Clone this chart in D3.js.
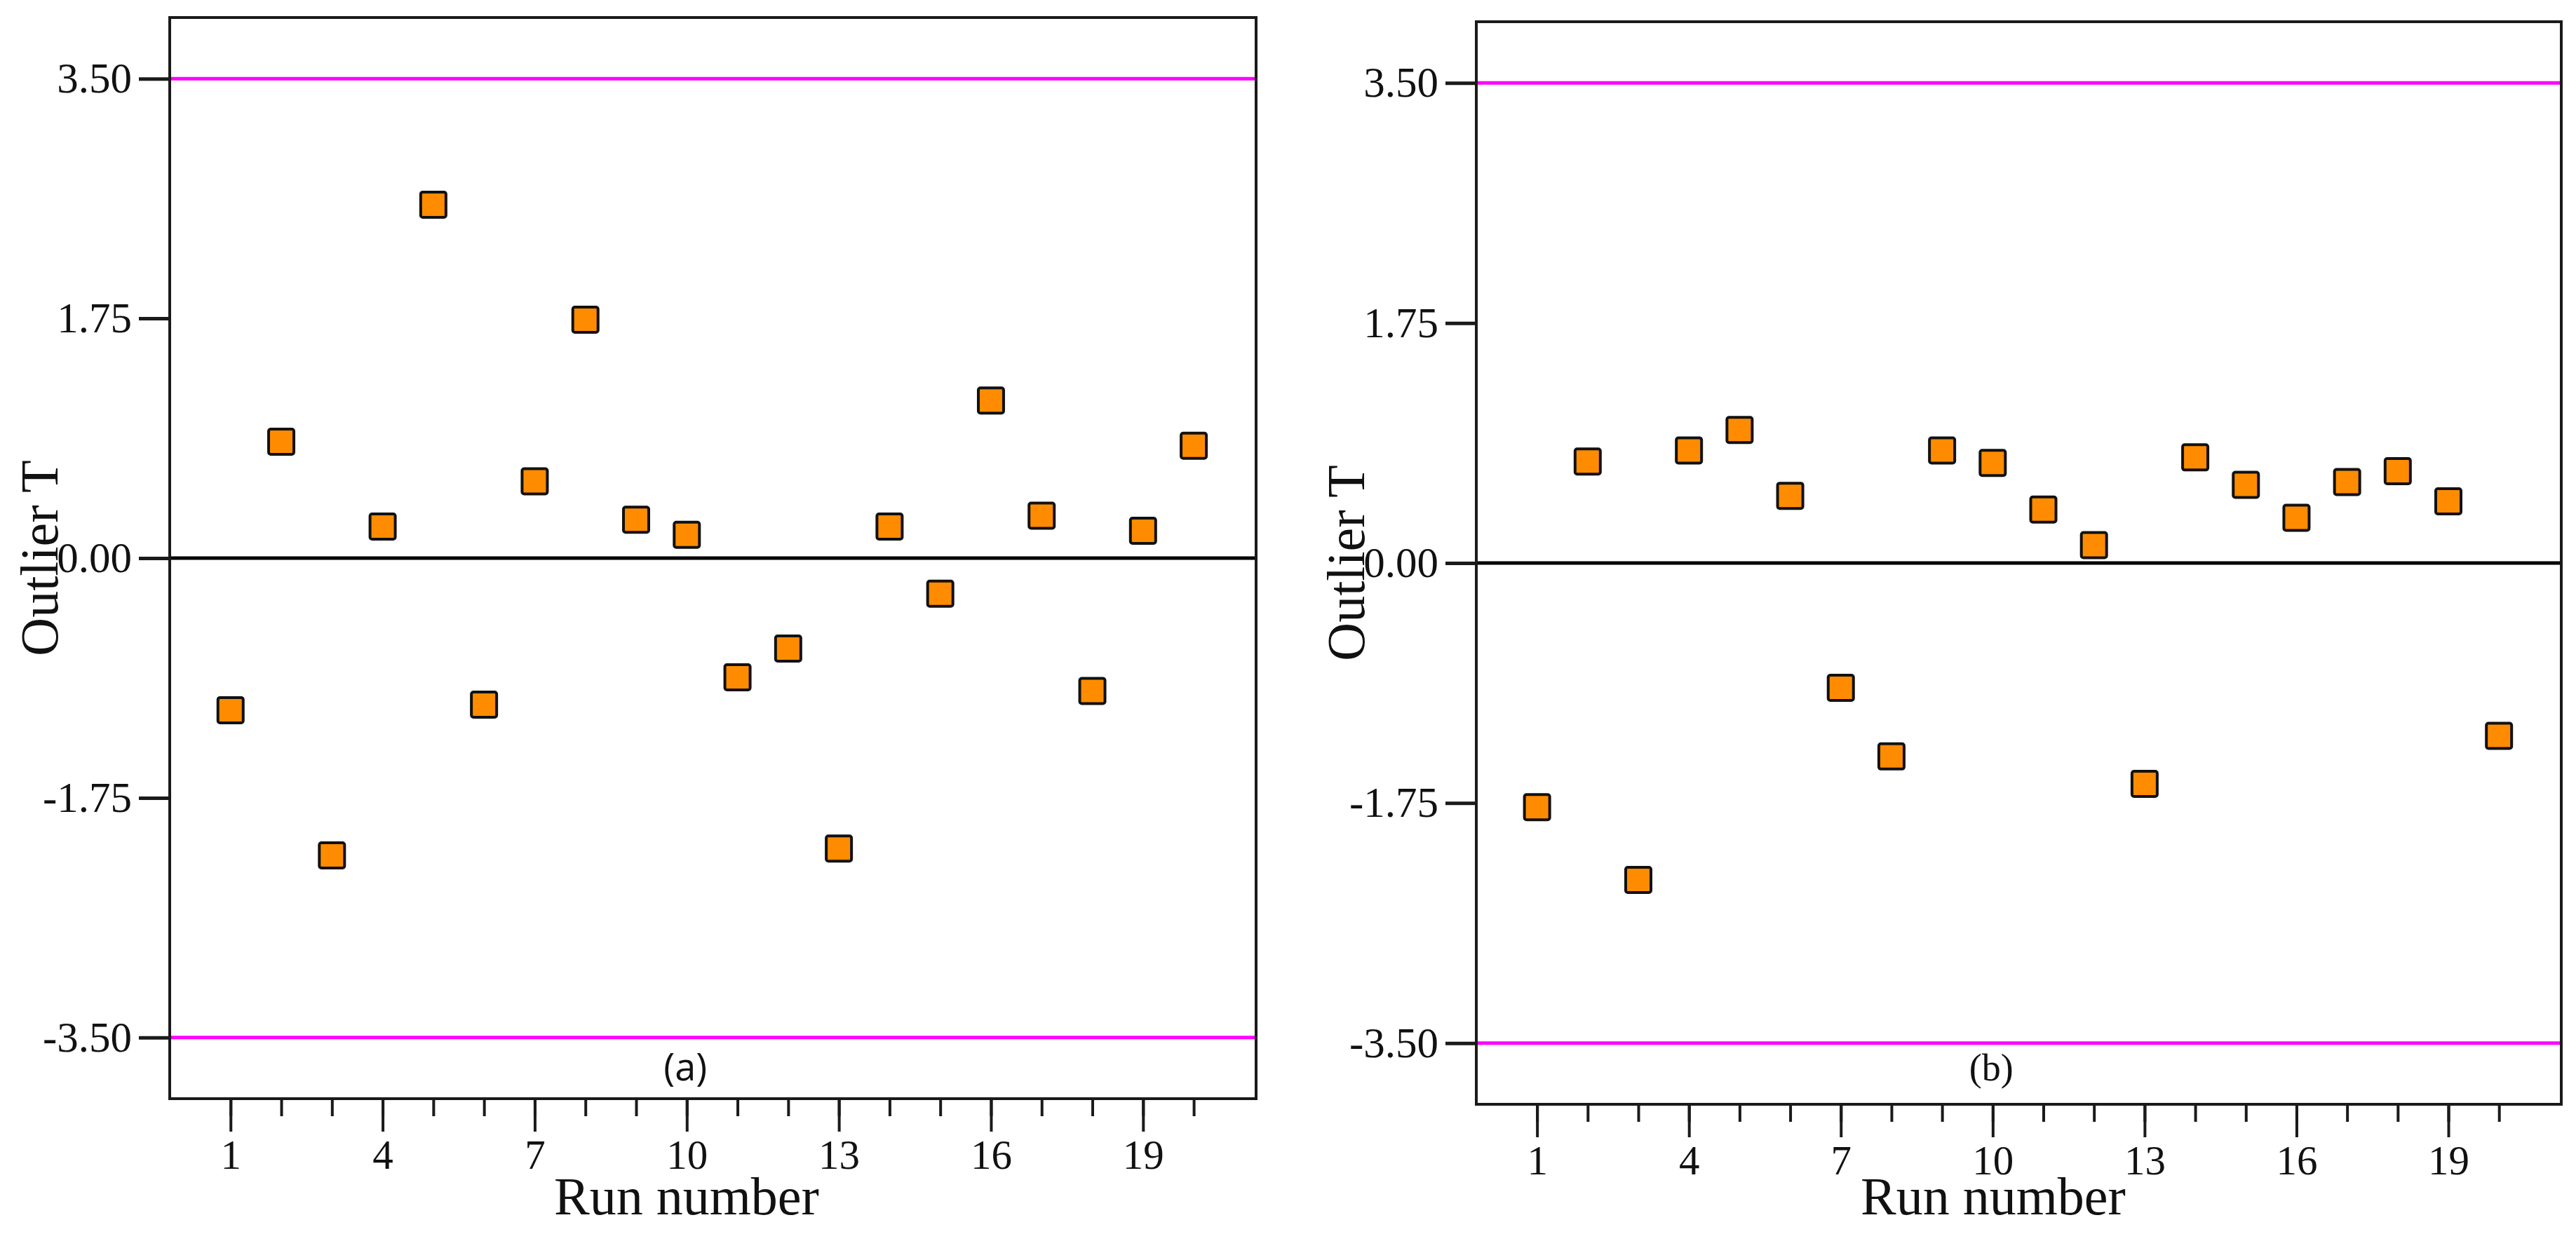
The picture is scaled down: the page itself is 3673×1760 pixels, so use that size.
<!DOCTYPE html>
<html>
<head>
<meta charset="utf-8">
<script src="https://cdn.jsdelivr.net/npm/d3@7"></script>
<style>
  html, body { margin: 0; padding: 0; background: #fff; }
  svg { display: block; }
  .tick text { font-family: "Liberation Serif", "Times New Roman", serif; fill: #111; }
</style>
</head>
<body>
<svg id="chart" width="3673" height="1760"></svg>
<script>
// ---- data ----
const runs = [1,2,3,4,5,6,7,8,9,10,11,12,13,14,15,16,17,18,19,20];
const outlierA = [-1.11, 0.85, -2.17, 0.23, 2.58, -1.07, 0.56, 1.74, 0.28, 0.17,
                  -0.87, -0.66, -2.12, 0.23, -0.26, 1.15, 0.31, -0.97, 0.20, 0.82];
const outlierB = [-1.78, 0.74, -2.31, 0.82, 0.97, 0.49, -0.91, -1.41, 0.82, 0.73,
                  0.39, 0.13, -1.61, 0.77, 0.57, 0.33, 0.59, 0.67, 0.45, -1.26];
const yTicks = [-3.5, -1.75, 0, 1.75, 3.5];
const xMajorTicks = [1, 4, 7, 10, 13, 16, 19];
const limitLines = [3.5, -3.5];
const panelLabels = ["(a)", "(b)"];
const xTitle = "Run number";
const yTitle = "Outlier T";

const svg = d3.select("#chart");
const serif = '"Liberation Serif", "Times New Roman", serif';
const locale = d3.formatLocale({ decimal: ".", thousands: ",", grouping: [3], currency: ["$", ""], minus: "-" });
const fmtY = locale.format(".2f");

const panels = [
  { values: outlierA, label: panelLabels[0], left: 242, right: 1791, top: 25, bottom: 1567, labelFont: '"Open Sans", "Liberation Sans", sans-serif' },
  { values: outlierB, label: panelLabels[1], left: 2105, right: 3652, top: 31, bottom: 1575, labelFont: serif }
];

panels.forEach(p => {
  const x = d3.scaleLinear().domain([-0.2, 21.23]).range([p.left, p.right]);
  const y = d3.scaleLinear().domain([-3.946, 3.946]).range([p.bottom, p.top]);
  const g = svg.append("g");

  // limit lines (magenta)
  g.selectAll("line.limit").data(limitLines).enter().append("line")
    .attr("x1", p.left).attr("x2", p.right)
    .attr("y1", d => y(d)).attr("y2", d => y(d))
    .attr("stroke", "#ff00ff").attr("stroke-width", 5);

  // zero line
  g.append("line")
    .attr("x1", p.left).attr("x2", p.right)
    .attr("y1", y(0)).attr("y2", y(0))
    .attr("stroke", "#000").attr("stroke-width", 5);

  // frame
  g.append("rect")
    .attr("x", p.left).attr("y", p.top)
    .attr("width", p.right - p.left).attr("height", p.bottom - p.top)
    .attr("fill", "none").attr("stroke", "#1a1a1a").attr("stroke-width", 4);

  // y axis
  const ya = g.append("g").attr("transform", `translate(${p.left},0)`)
    .call(d3.axisLeft(y).tickValues(yTicks).tickFormat(fmtY)
      .tickSize(44).tickPadding(10));
  ya.select(".domain").remove();
  ya.selectAll(".tick line").attr("stroke", "#1a1a1a").attr("stroke-width", 5);
  ya.selectAll(".tick text").attr("font-size", 61).attr("font-family", serif);

  // x axis minor ticks
  const xm = g.append("g").attr("transform", `translate(0,${p.bottom})`)
    .call(d3.axisBottom(x).tickValues(runs).tickFormat("").tickSize(25));
  xm.select(".domain").remove();
  xm.selectAll(".tick line").attr("stroke", "#1a1a1a").attr("stroke-width", 4);

  // x axis major ticks
  const xa = g.append("g").attr("transform", `translate(0,${p.bottom})`)
    .call(d3.axisBottom(x).tickValues(xMajorTicks).tickFormat(d3.format("d"))
      .tickSize(47).tickPadding(11));
  xa.select(".domain").remove();
  xa.selectAll(".tick line").attr("stroke", "#1a1a1a").attr("stroke-width", 4);
  xa.selectAll(".tick text").attr("font-size", 59).attr("font-family", serif);

  // points
  const s = 36;
  g.selectAll("rect.pt").data(runs).enter().append("rect")
    .attr("class", "pt")
    .attr("x", (d) => x(d) - s / 2)
    .attr("y", (d, i) => y(p.values[i]) - s / 2)
    .attr("width", s).attr("height", s)
    .attr("rx", 3).attr("ry", 3)
    .attr("fill", "#ff8c00").attr("stroke", "#111").attr("stroke-width", 4);

  // panel label
  g.append("text")
    .attr("x", x(10) - 2).attr("y", 1541)
    .attr("text-anchor", "middle")
    .attr("font-family", p.labelFont).attr("font-size", 54).attr("fill", "#111")
    .text(p.label);

  // x title
  g.append("text")
    .attr("x", p.left + 737).attr("y", 1732)
    .attr("text-anchor", "middle")
    .attr("font-family", serif).attr("font-size", 76).attr("fill", "#111")
    .text(xTitle);

  // y title
  g.append("text")
    .attr("transform", `translate(${p.left - 160},${y(0)}) rotate(-90)`)
    .attr("text-anchor", "middle")
    .attr("font-family", serif).attr("font-size", 76).attr("fill", "#111")
    .text(yTitle);
});
</script>
</body>
</html>
